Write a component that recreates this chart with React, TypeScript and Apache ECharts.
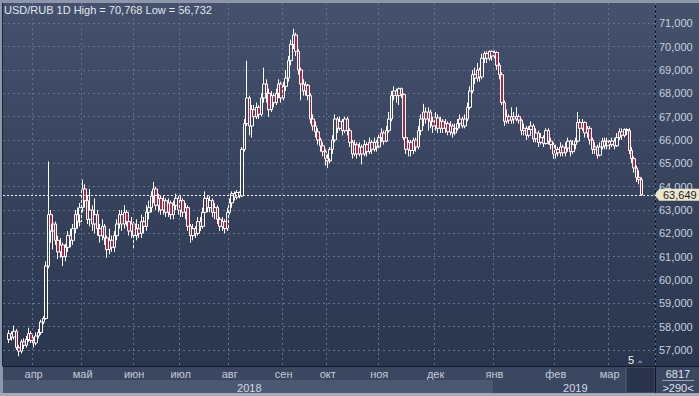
import React, { useEffect, useRef } from 'react';
import * as echarts from 'echarts';

// ---- data ----
const symbolName = 'USD/RUB';
const timeframe = '1D';
const monthLabels = ['апр', 'май', 'июн', 'июл', 'авг', 'сен', 'окт', 'ноя', 'дек', 'янв', 'фев', 'мар'];
const monthStartSlots = [12, 32, 53, 72, 92, 114, 132, 153, 176, 200, 225, 247];
const yearLabels = ['2018', '2019'];
const yearStartSlots = [0, 200];
const totalSlots = 266;
const firstCandleSlot = 2;
const yMin = 56;
const yMax = 72;
const yStep = 1;
const yLabelMin = 57;
const yLabelMax = 71;
const footerTop = '6817';
const footerBottom = '>290<';
const scrollMarker = '5';

// [open, close, low, high]
const candles: number[][] = [
  [57.45, 57.70, 57.30, 57.85], [57.70, 57.55, 57.40, 57.80], [57.55, 57.80, 57.45, 58.05],
  [57.80, 57.10, 57.00, 57.90], [57.10, 56.95, 56.732, 57.20], [56.95, 57.35, 56.85, 57.45],
  [57.35, 57.20, 57.05, 57.50], [57.20, 57.45, 57.10, 57.60], [57.45, 57.70, 57.35, 57.95],
  [57.70, 57.40, 57.30, 57.80], [57.40, 57.30, 57.10, 57.55], [57.30, 57.60, 57.20, 57.75],
  [57.60, 57.75, 57.50, 57.90], [57.75, 58.20, 57.65, 58.30], [58.20, 58.35, 58.10, 58.45],
  [58.35, 60.60, 58.30, 60.80], [60.60, 62.80, 60.50, 65.08], [62.80, 62.10, 61.60, 63.00],
  [62.10, 62.40, 61.30, 62.60], [62.40, 61.70, 61.50, 62.50], [61.70, 61.20, 60.90, 61.90],
  [61.20, 61.50, 60.95, 61.80], [61.50, 61.00, 60.60, 61.60], [61.00, 61.40, 60.80, 61.55],
  [61.40, 61.90, 61.20, 62.10], [61.90, 61.70, 61.40, 62.20], [61.70, 62.20, 61.50, 62.40],
  [62.20, 62.80, 62.00, 63.00], [62.80, 62.50, 62.20, 63.10], [62.50, 63.10, 62.30, 63.30],
  [63.10, 63.90, 62.90, 64.30], [63.90, 63.40, 63.10, 64.10], [63.40, 62.60, 62.40, 63.60],
  [62.60, 63.00, 62.30, 63.90], [63.00, 62.40, 62.10, 63.20], [62.40, 62.80, 62.00, 63.50],
  [62.80, 62.20, 61.90, 63.00], [62.20, 61.90, 61.60, 62.40], [61.90, 62.30, 61.70, 62.60],
  [62.30, 61.80, 61.50, 62.40], [61.80, 61.30, 60.95, 61.90], [61.30, 61.70, 61.10, 62.20],
  [61.70, 61.40, 61.20, 61.90], [61.40, 61.90, 61.20, 62.10], [61.90, 62.40, 61.70, 62.60],
  [62.40, 62.80, 62.20, 63.00], [62.80, 62.40, 62.10, 63.00], [62.40, 62.90, 62.20, 63.20],
  [62.90, 62.50, 62.30, 63.00], [62.50, 62.10, 61.90, 62.70], [62.10, 62.40, 61.80, 62.70],
  [62.40, 61.90, 61.30, 62.50], [61.90, 62.20, 61.70, 62.60], [62.20, 62.00, 61.80, 62.40],
  [62.00, 62.50, 61.80, 62.80], [62.50, 62.30, 62.00, 62.70], [62.30, 62.90, 62.10, 63.20],
  [62.90, 63.10, 62.60, 63.40], [63.10, 63.60, 62.90, 63.80], [63.60, 63.90, 63.30, 64.20],
  [63.90, 63.20, 63.00, 64.00], [63.20, 63.50, 62.90, 63.70], [63.50, 63.00, 62.80, 63.60],
  [63.00, 63.40, 62.80, 63.60], [63.40, 62.90, 62.70, 63.50], [62.90, 63.30, 62.70, 63.50],
  [63.30, 62.80, 62.60, 63.40], [62.80, 63.20, 62.60, 63.40], [63.20, 63.50, 63.00, 63.70],
  [63.50, 63.00, 62.80, 63.60], [63.00, 63.40, 62.70, 63.60], [63.40, 62.90, 62.70, 63.50],
  [62.90, 63.10, 62.60, 63.30], [63.10, 62.30, 62.10, 63.20], [62.30, 61.90, 61.60, 62.40],
  [61.90, 62.20, 61.70, 62.40], [62.20, 62.00, 61.80, 62.30], [62.00, 62.50, 61.90, 62.70],
  [62.50, 62.30, 62.10, 62.70], [62.30, 62.90, 62.20, 63.10], [62.90, 63.50, 62.80, 63.80],
  [63.50, 63.10, 62.90, 63.60], [63.10, 63.40, 62.90, 63.60], [63.40, 62.90, 62.70, 63.50],
  [62.90, 63.10, 62.60, 63.30], [63.10, 62.60, 62.40, 63.20], [62.60, 62.30, 62.10, 62.70],
  [62.30, 62.50, 62.10, 62.70], [62.50, 62.20, 62.00, 62.60], [62.20, 62.90, 62.10, 63.10],
  [62.90, 63.30, 62.80, 63.50], [63.30, 63.70, 63.10, 63.80], [63.70, 63.55, 63.40, 63.80],
  [63.55, 63.75, 63.45, 63.85], [63.75, 63.60, 63.50, 63.80], [63.60, 65.60, 63.55, 65.70],
  [65.60, 66.70, 65.50, 66.90], [66.70, 67.80, 66.60, 69.40], [67.80, 66.60, 66.20, 67.90],
  [66.60, 67.30, 66.10, 67.50], [67.30, 67.00, 66.80, 67.50], [67.00, 67.40, 66.90, 67.60],
  [67.40, 67.10, 66.90, 67.50], [67.10, 67.80, 67.00, 68.00], [67.80, 68.40, 67.60, 69.10],
  [68.40, 68.00, 67.60, 68.60], [68.00, 67.30, 67.00, 68.20], [67.30, 67.90, 67.20, 68.10],
  [67.90, 67.60, 67.40, 68.00], [67.60, 68.00, 67.50, 68.20], [68.00, 68.40, 67.80, 68.60],
  [68.40, 67.80, 67.60, 68.50], [67.80, 68.30, 67.70, 68.50], [68.30, 68.65, 68.10, 69.00],
  [68.65, 69.40, 68.50, 69.60], [69.40, 70.10, 69.20, 70.30], [70.10, 70.50, 69.90, 70.768],
  [70.50, 69.80, 69.60, 70.60], [69.80, 69.00, 68.80, 69.90], [69.00, 68.40, 67.70, 69.10],
  [68.40, 68.10, 67.90, 68.60], [68.10, 68.35, 67.90, 68.50], [68.35, 67.90, 67.70, 68.40],
  [67.90, 66.90, 66.70, 68.00], [66.90, 66.60, 66.40, 67.10], [66.60, 66.35, 66.10, 66.80],
  [66.35, 66.00, 65.80, 66.50], [66.00, 65.75, 65.50, 66.10], [65.75, 65.50, 65.30, 65.90],
  [65.50, 65.20, 64.90, 65.60], [65.20, 65.10, 64.80, 65.40], [65.10, 65.60, 65.00, 65.70],
  [65.60, 66.00, 65.40, 66.20], [66.00, 66.90, 65.90, 67.10], [66.90, 66.50, 66.30, 67.00],
  [66.50, 66.80, 66.40, 67.00], [66.80, 66.40, 66.20, 66.90], [66.40, 66.90, 66.30, 67.00],
  [66.90, 66.40, 66.20, 67.00], [66.40, 65.90, 65.70, 66.50], [65.90, 65.40, 65.20, 66.00],
  [65.40, 65.80, 65.30, 66.00], [65.80, 65.40, 65.20, 65.90], [65.40, 65.70, 65.30, 65.90],
  [65.70, 65.40, 64.95, 65.80], [65.40, 65.80, 65.30, 66.00], [65.80, 65.50, 65.30, 65.90],
  [65.50, 65.90, 65.40, 66.10], [65.90, 65.60, 65.40, 66.00], [65.60, 65.90, 65.50, 66.10],
  [65.90, 65.70, 65.50, 66.00], [65.70, 66.10, 65.60, 66.30], [66.10, 66.30, 65.90, 66.50],
  [66.30, 65.95, 65.80, 66.40], [65.95, 66.40, 65.90, 66.60], [66.40, 66.90, 66.30, 67.20],
  [66.90, 67.90, 66.80, 68.10], [67.90, 68.10, 67.70, 68.30], [68.10, 67.90, 67.60, 68.20],
  [67.90, 68.20, 67.50, 68.25], [68.20, 67.95, 67.80, 68.25], [67.95, 66.10, 66.00, 68.00],
  [66.10, 65.60, 65.40, 66.20], [65.60, 65.90, 65.30, 66.00], [65.90, 65.55, 65.30, 66.00],
  [65.55, 66.00, 65.40, 66.10], [66.00, 65.70, 65.50, 66.10], [65.70, 66.40, 65.60, 66.60],
  [66.40, 66.90, 66.20, 67.10], [66.90, 67.20, 66.60, 67.55], [67.20, 66.90, 66.70, 67.40],
  [66.90, 67.20, 66.40, 67.40], [67.20, 66.80, 66.50, 67.30], [66.80, 66.60, 66.30, 67.00],
  [66.60, 66.95, 66.40, 67.20], [66.95, 66.50, 66.30, 67.10], [66.50, 66.80, 66.30, 67.00],
  [66.80, 66.50, 66.30, 66.90], [66.50, 66.70, 66.30, 66.90], [66.70, 66.35, 66.20, 66.80],
  [66.35, 66.60, 66.20, 66.80], [66.60, 66.30, 66.10, 66.70], [66.30, 66.50, 66.20, 66.70],
  [66.50, 66.70, 66.40, 66.90], [66.70, 66.90, 66.50, 67.10], [66.90, 66.60, 66.50, 67.00],
  [66.60, 66.90, 66.50, 67.10], [66.90, 67.40, 66.80, 67.60], [67.40, 68.10, 67.30, 68.30],
  [68.10, 68.80, 68.00, 69.00], [68.80, 68.65, 68.40, 69.10], [68.65, 69.00, 68.50, 69.30],
  [69.00, 68.70, 68.50, 69.10], [68.70, 69.50, 68.60, 69.70], [69.50, 69.70, 69.30, 69.80],
  [69.70, 69.50, 69.30, 69.80], [69.50, 69.80, 69.40, 69.84], [69.80, 69.60, 69.40, 69.84],
  [69.60, 69.75, 69.50, 69.84], [69.75, 69.20, 69.00, 69.80], [69.20, 68.80, 68.60, 69.30],
  [68.80, 67.60, 67.50, 68.90], [67.60, 66.80, 66.60, 67.70], [66.80, 67.00, 66.70, 67.30],
  [67.00, 66.85, 66.70, 67.10], [66.85, 67.00, 66.70, 67.40], [67.00, 66.90, 66.70, 67.20],
  [66.90, 67.00, 66.80, 67.40], [67.00, 66.85, 66.70, 67.10], [66.85, 66.40, 66.20, 66.90],
  [66.40, 66.50, 66.20, 66.70], [66.50, 66.20, 66.00, 66.60], [66.20, 66.45, 66.10, 66.60],
  [66.45, 66.60, 66.30, 66.80], [66.60, 66.05, 65.90, 66.70], [66.05, 66.30, 65.90, 66.50],
  [66.30, 65.90, 65.70, 66.40], [65.90, 66.10, 65.80, 66.30], [66.10, 65.85, 65.70, 66.20],
  [65.85, 66.40, 65.80, 66.50], [66.40, 65.95, 65.80, 66.50], [65.95, 65.80, 65.60, 66.10],
  [65.80, 65.40, 65.20, 65.90], [65.40, 65.60, 65.20, 65.80], [65.60, 65.45, 65.30, 65.70],
  [65.45, 65.70, 65.30, 65.90], [65.70, 65.45, 65.30, 65.80], [65.45, 65.65, 65.30, 65.90],
  [65.65, 65.95, 65.50, 66.10], [65.95, 65.50, 65.30, 66.00], [65.50, 65.80, 65.40, 66.00],
  [65.80, 65.95, 65.60, 66.10], [65.95, 66.75, 65.90, 67.20], [66.75, 66.50, 66.30, 66.90],
  [66.50, 66.75, 66.40, 66.90], [66.75, 66.30, 66.10, 66.80], [66.30, 66.50, 66.10, 66.60],
  [66.50, 66.00, 65.80, 66.60], [66.00, 65.60, 65.40, 66.10], [65.60, 65.70, 65.40, 65.90],
  [65.70, 65.35, 65.20, 65.80], [65.35, 65.70, 65.30, 65.90], [65.70, 65.95, 65.60, 66.10],
  [65.95, 65.75, 65.60, 66.10], [65.75, 65.95, 65.60, 66.10], [65.95, 65.80, 65.60, 66.00],
  [65.80, 65.95, 65.70, 66.10], [65.95, 65.75, 65.60, 66.10], [65.75, 66.10, 65.70, 66.30],
  [66.10, 66.35, 66.00, 66.50], [66.35, 66.20, 66.00, 66.50], [66.20, 66.45, 66.10, 66.50],
  [66.45, 66.40, 66.20, 66.50], [66.40, 65.55, 65.40, 66.50], [65.55, 65.20, 65.00, 65.70],
  [65.20, 64.80, 64.60, 65.30], [64.80, 64.40, 64.20, 64.90], [64.40, 64.30, 64.10, 64.70],
  [64.30, 63.649, 63.60, 64.40],
];

const FONT = '"Liberation Sans Narrow", "Arial Narrow", "Liberation Sans", Arial, sans-serif';
const fmt = (v: number) => v.toFixed(3).replace('.', ',');

export default function App() {
  const ref = useRef<HTMLDivElement>(null);

  useEffect(() => {
    const chart = echarts.init(ref.current!, null, { renderer: 'svg' });
    const slots = Array.from({ length: totalSlots }, (_, i) => String(i));
    const seriesData = candles.map((c, k) => [firstCandleSlot + k, c[0], c[1], c[2], c[3]]);
    const maxHigh = Math.max(...candles.map((c) => c[3]));
    const minLow = Math.min(...candles.map((c) => c[2]));
    const lastClose = candles[candles.length - 1][1];
    const yearLabelSlots = yearStartSlots.map((s, k) =>
      Math.round((s + (k + 1 < yearStartSlots.length ? yearStartSlots[k + 1] : totalSlots)) / 2)
    );

    const gridLine = { color: '#65728e', width: 1, type: [2, 3] as any };

    chart.setOption({
      animation: false,
      backgroundColor: new echarts.graphic.LinearGradient(0, 0, 0, 1, [
        { offset: 0, color: '#45516d' },
        { offset: 1, color: '#28334c' },
      ]),
      title: {
        text: `${symbolName} ${timeframe} High = ${fmt(maxHigh)} Low = ${fmt(minLow)}`,
        left: 4,
        top: 4,
        padding: 0,
        textStyle: { color: '#e3e7ef', fontSize: 11, fontWeight: 'normal', fontFamily: FONT },
      },
      grid: [
        { left: 3, right: 44, top: -1.1, bottom: 22.7 },
        { left: 3, right: 44, top: 3, bottom: 30 },
      ],
      xAxis: [
        { type: 'category', gridIndex: 0, data: slots, boundaryGap: true, show: false },
        {
          type: 'category', gridIndex: 1, position: 'bottom', data: slots, boundaryGap: true, z: 60,
          axisLine: { show: true, lineStyle: { color: '#141a26', width: 1 } },
          axisTick: { show: false },
          axisLabel: {
            interval: (i: number) => monthStartSlots.includes(i),
            formatter: (_v: string, i: number) => monthLabels[monthStartSlots.indexOf(i)] ?? '',
            color: '#c3cad8', fontSize: 11, fontFamily: FONT, margin: 2,
          },
          splitLine: { show: true, interval: (i: number) => monthStartSlots.includes(i), lineStyle: gridLine },
        },
        {
          type: 'category', gridIndex: 1, position: 'bottom', data: slots, boundaryGap: true, z: 60, offset: 14,
          axisLine: { show: false }, axisTick: { show: false }, splitLine: { show: false },
          axisLabel: {
            interval: (i: number) => yearLabelSlots.includes(i),
            formatter: (_v: string, i: number) => yearLabels[yearLabelSlots.indexOf(i)] ?? '',
            color: '#d3d9e4', fontSize: 11, fontFamily: FONT, margin: 2,
          },
        },
      ],
      yAxis: [
        {
          type: 'value', gridIndex: 0, position: 'right', min: yMin, max: yMax, interval: yStep,
          axisLine: { show: true, lineStyle: { color: '#10151f', width: 1 } },
          axisTick: { show: false },
          axisLabel: {
            formatter: (v: number) => (v >= yLabelMin && v <= yLabelMax ? fmt(v) : ''),
            color: '#c9d0dd', fontSize: 11, fontFamily: FONT, margin: 4,
          },
          splitLine: { show: true, lineStyle: gridLine },
        },
        { type: 'value', gridIndex: 1, show: false },
      ],
      series: [
        {
          type: 'candlestick',
          xAxisIndex: 0,
          yAxisIndex: 0,
          data: seriesData,
          encode: { x: 0, y: [1, 2, 3, 4] },
          barWidth: 3,
          itemStyle: {
            color: 'rgba(0,0,0,0)',
            color0: '#b4233f',
            borderColor: '#ffffff',
            borderColor0: '#ffffff',
            borderWidth: 1,
          },
          markLine: {
            silent: true,
            symbol: 'none',
            precision: 3,
            lineStyle: { color: '#f2f2f2', width: 1, type: [2, 2] as any },
            label: {
              position: 'end',
              distance: 4,
              formatter: () => fmt(lastClose),
              backgroundColor: '#ebe7cd',
              color: '#1b1b1b',
              fontSize: 11,
              fontFamily: FONT,
              padding: [1, 5, 0, 4],
            },
            data: [{ yAxis: lastClose }],
          },
        },
      ],
      graphic: {
        elements: [
          { id: 'frameTop', type: 'rect', z: 50, shape: { x: 0, y: 0, width: 699, height: 3 }, style: { fill: '#8e97aa' } },
          { id: 'frameLeft', type: 'rect', z: 50, shape: { x: 0, y: 0, width: 3, height: 396 }, style: { fill: '#8e97aa' } },
          { id: 'frameLeftDark', type: 'rect', z: 50, shape: { x: 2, y: 3, width: 1, height: 363 }, style: { fill: '#1c2232' } },
          { id: 'monthRow', type: 'rect', z: 50, shape: { x: 3, y: 366, width: 696, height: 14 }, style: { fill: '#3b4661' } },
          { id: 'yearRowA', type: 'rect', z: 50, shape: { x: 3, y: 380, width: 490, height: 13 }, style: { fill: '#4c5871' } },
          { id: 'yearRowB', type: 'rect', z: 50, shape: { x: 493, y: 380, width: 206, height: 13 }, style: { fill: '#3b4661' } },
          { id: 'scrollBox', type: 'rect', z: 51, shape: { x: 626, y: 367, width: 29, height: 26 }, style: { fill: '#29334b', stroke: '#56617a', lineWidth: 1 } },
          { id: 'bottomEdge', type: 'rect', z: 52, shape: { x: 0, y: 393, width: 699, height: 3 }, style: { fill: '#a3abbb' } },
          { id: 'hSep', type: 'line', z: 52, shape: { x1: 3, y1: 366.5, x2: 699, y2: 366.5 }, style: { stroke: '#141a26', lineWidth: 1 } },
          { id: 'vSep', type: 'line', z: 52, shape: { x1: 655.5, y1: 366, x2: 655.5, y2: 393 }, style: { stroke: '#10151f', lineWidth: 1 } },
          { id: 'footTop', type: 'text', z: 53, style: { x: 678, y: 374, text: footerTop, fill: '#dde2ec', font: `11px ${FONT}`, textAlign: 'center', textVerticalAlign: 'middle' } },
          { id: 'footLine', type: 'line', z: 53, shape: { x1: 662, y1: 380.5, x2: 694, y2: 380.5 }, style: { stroke: '#9aa3b6', lineWidth: 1 } },
          { id: 'footBottom', type: 'text', z: 53, style: { x: 678, y: 387.5, text: footerBottom, fill: '#dde2ec', font: `11px ${FONT}`, textAlign: 'center', textVerticalAlign: 'middle' } },
          { id: 'scrollText', type: 'text', z: 53, style: { x: 631, y: 360, text: scrollMarker, fill: '#f4f4f4', font: `11px ${FONT}`, textAlign: 'center', textVerticalAlign: 'middle' } },
          { id: 'scrollArrow', type: 'polygon', z: 53, shape: { points: [[637, 363], [640, 360], [643, 363]] }, style: { fill: '#6d7891' } },
        ],
      },
    });

    const py = chart.convertToPixel({ yAxisIndex: 0 }, lastClose) as number;
    chart.setOption({
      graphic: {
        elements: [
          { id: 'priceArrow', type: 'polygon', z: 55, shape: { points: [[654, py], [659.5, py - 6], [659.5, py + 6]] }, style: { fill: '#ebe7cd' } },
        ],
      },
    });

    return () => chart.dispose();
  }, []);

  return <div ref={ref} style={{ position: 'fixed', left: 0, top: 0, width: 699, height: 396 }} />;
}
